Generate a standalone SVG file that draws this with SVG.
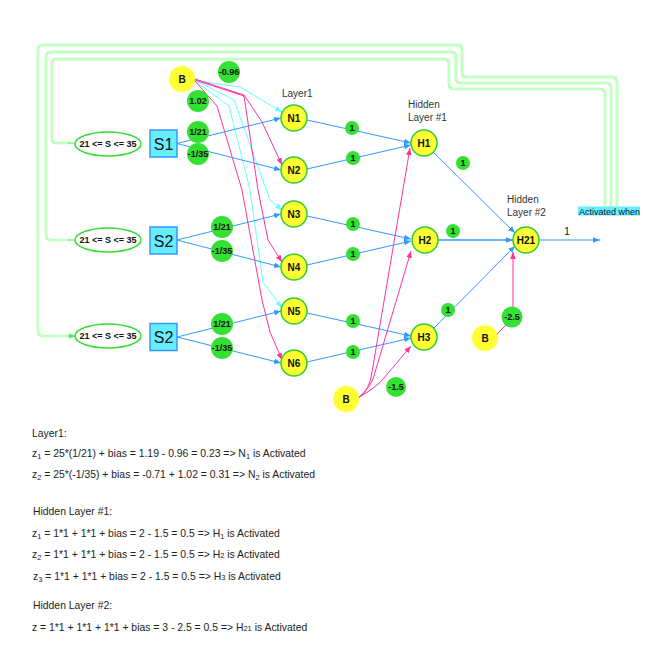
<svg xmlns="http://www.w3.org/2000/svg" width="652" height="652" viewBox="0 0 652 652">
<style>
text{font-family:"Liberation Sans",Arial,sans-serif;fill:#111}
.node{fill:#ffff33;stroke:#33cc33;stroke-width:1.5}
.bias{fill:#ffff33}
.w{fill:#33e033}
.wt{font-size:9px;font-weight:bold;text-anchor:middle}
.nt{font-size:10px;font-weight:bold;text-anchor:middle}
.lbl{font-size:10px;fill:#333}
.sbox{fill:#66eeff;stroke:#3399ff;stroke-width:1.5}
.st{font-size:16px;text-anchor:middle}
.ell{fill:#fff;stroke:#33dd33;stroke-width:1.5}
.et{font-size:9px;font-weight:bold;text-anchor:middle}
.blue{fill:none;stroke:#3399ff;stroke-width:1;marker-end:url(#ab)}
.pink{fill:none;stroke:#ff3399;stroke-width:1;marker-end:url(#ap)}
.cyan{fill:none;stroke:#66ffff;stroke-width:1;marker-end:url(#ac)}
.gout{fill:none;stroke:#99ff99;stroke-width:2.6}
.gin{fill:none;stroke:#f8fff8;stroke-width:0.9}
.eq{font-size:10.4px;fill:#222}
</style>
<defs>
<marker id="ab" viewBox="0 0 10 10" refX="10" refY="5" markerWidth="7" markerHeight="7" orient="auto" markerUnits="userSpaceOnUse"><path d="M0,1 L10,5 L0,9 z" fill="#3399ff"/></marker>
<marker id="ap" viewBox="0 0 10 10" refX="10" refY="5" markerWidth="7" markerHeight="7" orient="auto" markerUnits="userSpaceOnUse"><path d="M0,1 L10,5 L0,9 z" fill="#ff3399"/></marker>
<marker id="ac" viewBox="0 0 10 10" refX="10" refY="5" markerWidth="7" markerHeight="7" orient="auto" markerUnits="userSpaceOnUse"><path d="M0,1 L10,5 L0,9 z" fill="#66ffff"/></marker>
<marker id="ag" viewBox="0 0 10 10" refX="10" refY="5" markerWidth="7" markerHeight="7" orient="auto" markerUnits="userSpaceOnUse"><path d="M0,1 L10,5 L0,9 z" fill="#55ee55"/></marker>
</defs>

<g id="connectors">
  <path class="gout" d="M605,207 V94 Q605,89 600,89 H454 Q449,89 449,84 V64 Q449,59 444,59 H57 Q52,59 52,64 V138 Q52,143 57,143 H70"/>
  <path class="gin" d="M605,207 V94 Q605,89 600,89 H454 Q449,89 449,84 V64 Q449,59 444,59 H57 Q52,59 52,64 V138 Q52,143 57,143 H70"/>
  <path class="gout" d="M611,207 V88 Q611,83 606,83 H461 Q456,83 456,78 V57 Q456,52 451,52 H51 Q46,52 46,57 V235 Q46,240 51,240 H70"/>
  <path class="gin" d="M611,207 V88 Q611,83 606,83 H461 Q456,83 456,78 V57 Q456,52 451,52 H51 Q46,52 46,57 V235 Q46,240 51,240 H70"/>
  <path class="gout" d="M617,207 V82 Q617,77 612,77 H467 Q462,77 462,72 V50 Q462,45 457,45 H43 Q38,45 38,50 V331 Q38,336 43,336 H70"/>
  <path class="gin" d="M617,207 V82 Q617,77 612,77 H467 Q462,77 462,72 V50 Q462,45 457,45 H43 Q38,45 38,50 V331 Q38,336 43,336 H70"/>
  <path d="M68,143 H76 M68,240 H76 M68,336 H76" stroke="#55ee55" stroke-width="1" marker-end="url(#ag)"/>

  <path class="cyan" d="M195,80 Q215,84 240,87 L282,112"/>
  <path class="pink" d="M195,79 L244,95 L262,122 L282,165"/>
  <path class="cyan" d="M195,80 L234,100 L262,178 L270,200 L282,210"/>
  <path class="pink" d="M195,80 L244,96 L258,190 L268,240 L282,262"/>
  <path class="cyan" d="M195,81 L229,106 L250,190 L263,282 L282,308"/>
  <path class="pink" d="M195,81 L217,106 L242,190 L262,300 L270,332 L282,360"/>

  <path class="blue" d="M177,143.5 L281,118"/>
  <path class="blue" d="M177,143.5 L281,170"/>
  <path class="blue" d="M177,240 L281,214"/>
  <path class="blue" d="M177,240 L281,267"/>
  <path class="blue" d="M177,337 L281,311"/>
  <path class="blue" d="M177,337 L281,363"/>

  <path class="blue" d="M307,120 L411,143"/>
  <path class="blue" d="M307,169 L411,145"/>
  <path class="blue" d="M307,216 L411,239"/>
  <path class="blue" d="M307,265 L411,241"/>
  <path class="blue" d="M307,313 L411,336"/>
  <path class="blue" d="M307,362 L411,338"/>

  <path class="pink" d="M358,398 Q370,390 372,372 L410,148"/>
  <path class="pink" d="M358,398 Q372,388 376,369 L411,251"/>
  <path class="pink" d="M358,398 Q378,386 384,378 L411,346"/>

  <path class="blue" d="M433,152 L515,233"/>
  <path d="M438,240 L513,240" fill="none" stroke="#3399ff" stroke-width="1.5" marker-end="url(#ab)"/>
  <path class="blue" d="M434,328 L515,246"/>
  <path class="pink" d="M497,334 L507,324 M513,307 L513,252"/>
  <path d="M539,240 L600,240" fill="none" stroke="#77bbff" stroke-width="1.5" marker-end="url(#ab)"/>
</g>

<g id="ellipse1"><ellipse class="ell" cx="108" cy="144" rx="33" ry="12"/><text class="et" x="108" y="147">21 &lt;= S &lt;= 35</text></g>
<g id="ellipse2"><ellipse class="ell" cx="108" cy="240" rx="33" ry="12"/><text class="et" x="108" y="243">21 &lt;= S &lt;= 35</text></g>
<g id="ellipse3"><ellipse class="ell" cx="108" cy="336" rx="33" ry="12"/><text class="et" x="108" y="339">21 &lt;= S &lt;= 35</text></g>

<g id="S1"><rect class="sbox" x="150" y="130" width="27" height="27"/><text class="st" x="163.5" y="149.5">S1</text></g>
<g id="S2"><rect class="sbox" x="150" y="227" width="27" height="27"/><text class="st" x="163.5" y="246.5">S2</text></g>
<g id="S3"><rect class="sbox" x="150" y="323.5" width="27" height="27"/><text class="st" x="163.5" y="343">S2</text></g>

<g id="B1"><circle class="bias" cx="182" cy="79" r="13"/><text class="nt" x="182" y="82.5">B</text></g>
<g id="B2"><circle class="bias" cx="346" cy="399" r="13"/><text class="nt" x="346" y="402.5">B</text></g>
<g id="B3"><circle class="bias" cx="485" cy="338" r="13"/><text class="nt" x="485" y="341.5">B</text></g>

<g id="w_m096"><circle class="w" cx="229" cy="72" r="11"/><text class="wt" x="229" y="75">-0.96</text></g>
<g id="w_102"><circle class="w" cx="198" cy="101" r="11"/><text class="wt" x="198" y="104">1.02</text></g>
<g id="w_s1a"><circle class="w" cx="198" cy="132" r="11"/><text class="wt" x="198" y="135">1/21</text></g>
<g id="w_s1b"><circle class="w" cx="198" cy="154" r="11"/><text class="wt" x="198" y="157">-1/35</text></g>
<g id="w_s2a"><circle class="w" cx="222" cy="227" r="11"/><text class="wt" x="222" y="230">1/21</text></g>
<g id="w_s2b"><circle class="w" cx="222" cy="251" r="11"/><text class="wt" x="222" y="254">-1/35</text></g>
<g id="w_s3a"><circle class="w" cx="222" cy="324" r="11"/><text class="wt" x="222" y="327">1/21</text></g>
<g id="w_s3b"><circle class="w" cx="222" cy="348" r="11"/><text class="wt" x="222" y="351">-1/35</text></g>

<g id="w_n1"><circle class="w" cx="352" cy="128" r="7"/><text class="wt" x="352" y="131">1</text></g>
<g id="w_n2"><circle class="w" cx="353" cy="158" r="7"/><text class="wt" x="353" y="161">1</text></g>
<g id="w_n3"><circle class="w" cx="353" cy="224" r="7"/><text class="wt" x="353" y="227">1</text></g>
<g id="w_n4"><circle class="w" cx="353" cy="254" r="7"/><text class="wt" x="353" y="257">1</text></g>
<g id="w_n5"><circle class="w" cx="353" cy="321" r="7"/><text class="wt" x="353" y="324">1</text></g>
<g id="w_n6"><circle class="w" cx="353" cy="352" r="7"/><text class="wt" x="353" y="355">1</text></g>
<g id="w_h1"><circle class="w" cx="463" cy="163" r="7"/><text class="wt" x="463" y="166">1</text></g>
<g id="w_h2"><circle class="w" cx="453" cy="231" r="7"/><text class="wt" x="453" y="234">1</text></g>
<g id="w_h3"><circle class="w" cx="448" cy="310" r="7"/><text class="wt" x="448" y="313">1</text></g>
<g id="w_m25"><circle class="w" cx="512" cy="317" r="10.5"/><text class="wt" x="512" y="320">-2.5</text></g>
<g id="w_m15"><circle class="w" cx="396" cy="387" r="10"/><text class="wt" x="396" y="390">-1.5</text></g>

<g id="N1"><circle class="node" cx="294" cy="118" r="13"/><text class="nt" x="294" y="121.5">N1</text></g>
<g id="N2"><circle class="node" cx="294" cy="170" r="13"/><text class="nt" x="294" y="173.5">N2</text></g>
<g id="N3"><circle class="node" cx="294" cy="214" r="13"/><text class="nt" x="294" y="217.5">N3</text></g>
<g id="N4"><circle class="node" cx="294" cy="267" r="13"/><text class="nt" x="294" y="270.5">N4</text></g>
<g id="N5"><circle class="node" cx="294" cy="311" r="13"/><text class="nt" x="294" y="314.5">N5</text></g>
<g id="N6"><circle class="node" cx="294" cy="363" r="13"/><text class="nt" x="294" y="366.5">N6</text></g>
<g id="H1"><circle class="node" cx="424" cy="143" r="13"/><text class="nt" x="424" y="146.5">H1</text></g>
<g id="H2"><circle class="node" cx="425" cy="240" r="13"/><text class="nt" x="425" y="243.5">H2</text></g>
<g id="H3"><circle class="node" cx="424" cy="337" r="13"/><text class="nt" x="424" y="340.5">H3</text></g>
<g id="H21"><circle class="node" cx="526" cy="240" r="13"/><text class="nt" x="526" y="243.5">H21</text></g>

<g id="labels">
  <text class="lbl" x="282" y="97">Layer1</text>
  <text class="lbl" x="408" y="108">Hidden</text>
  <text class="lbl" x="408" y="121">Layer #1</text>
  <text class="lbl" x="507" y="203">Hidden</text>
  <text class="lbl" x="507" y="216">Layer #2</text>
  <text x="567" y="235" style="font-size:10px" text-anchor="middle">1</text>
  <rect x="578" y="206.5" width="62" height="9" fill="#66f0ff"/>
  <text x="579" y="214.5" style="font-size:9px;fill:#113">Activated when</text>
</g>

<g id="equations">
  <text class="eq" x="32" y="437">Layer1:</text>
  <text class="eq" x="32" y="457">z<tspan font-size="7.5" dy="2">1</tspan><tspan dy="-2"> = 25*(1/21) + bias = 1.19 - 0.96 = 0.23 =&gt; N</tspan><tspan font-size="7.5" dy="2">1</tspan><tspan dy="-2"> is Activated</tspan></text>
  <text class="eq" x="32" y="478">z<tspan font-size="7.5" dy="2">2</tspan><tspan dy="-2"> = 25*(-1/35) + bias = -0.71 + 1.02 = 0.31 =&gt; N</tspan><tspan font-size="7.5" dy="2">2</tspan><tspan dy="-2"> is Activated</tspan></text>
  <text class="eq" x="33" y="515">Hidden Layer #1:</text>
  <text class="eq" x="32" y="537">z<tspan font-size="7.5" dy="2">1</tspan><tspan dy="-2"> = 1*1 + 1*1 + bias = 2 - 1.5 = 0.5 =&gt; H</tspan><tspan font-size="7.5" dy="2">1</tspan><tspan dy="-2"> is Activated</tspan></text>
  <text class="eq" x="32" y="558">z<tspan font-size="7.5" dy="2">2</tspan><tspan dy="-2"> = 1*1 + 1*1 + bias = 2 - 1.5 = 0.5 =&gt; H</tspan><tspan font-size="7.5">2</tspan><tspan> is Activated</tspan></text>
  <text class="eq" x="33" y="580">z<tspan font-size="7.5" dy="2">3</tspan><tspan dy="-2"> = 1*1 + 1*1 + bias = 2 - 1.5 = 0.5 =&gt; H</tspan><tspan font-size="7.5">3</tspan><tspan> is Activated</tspan></text>
  <text class="eq" x="33" y="609">Hidden Layer #2:</text>
  <text class="eq" x="32" y="631">z = 1*1 + 1*1 + 1*1 + bias = 3 - 2.5 = 0.5 =&gt; H<tspan font-size="7.5">21</tspan> is Activated</text>
</g>
</svg>
